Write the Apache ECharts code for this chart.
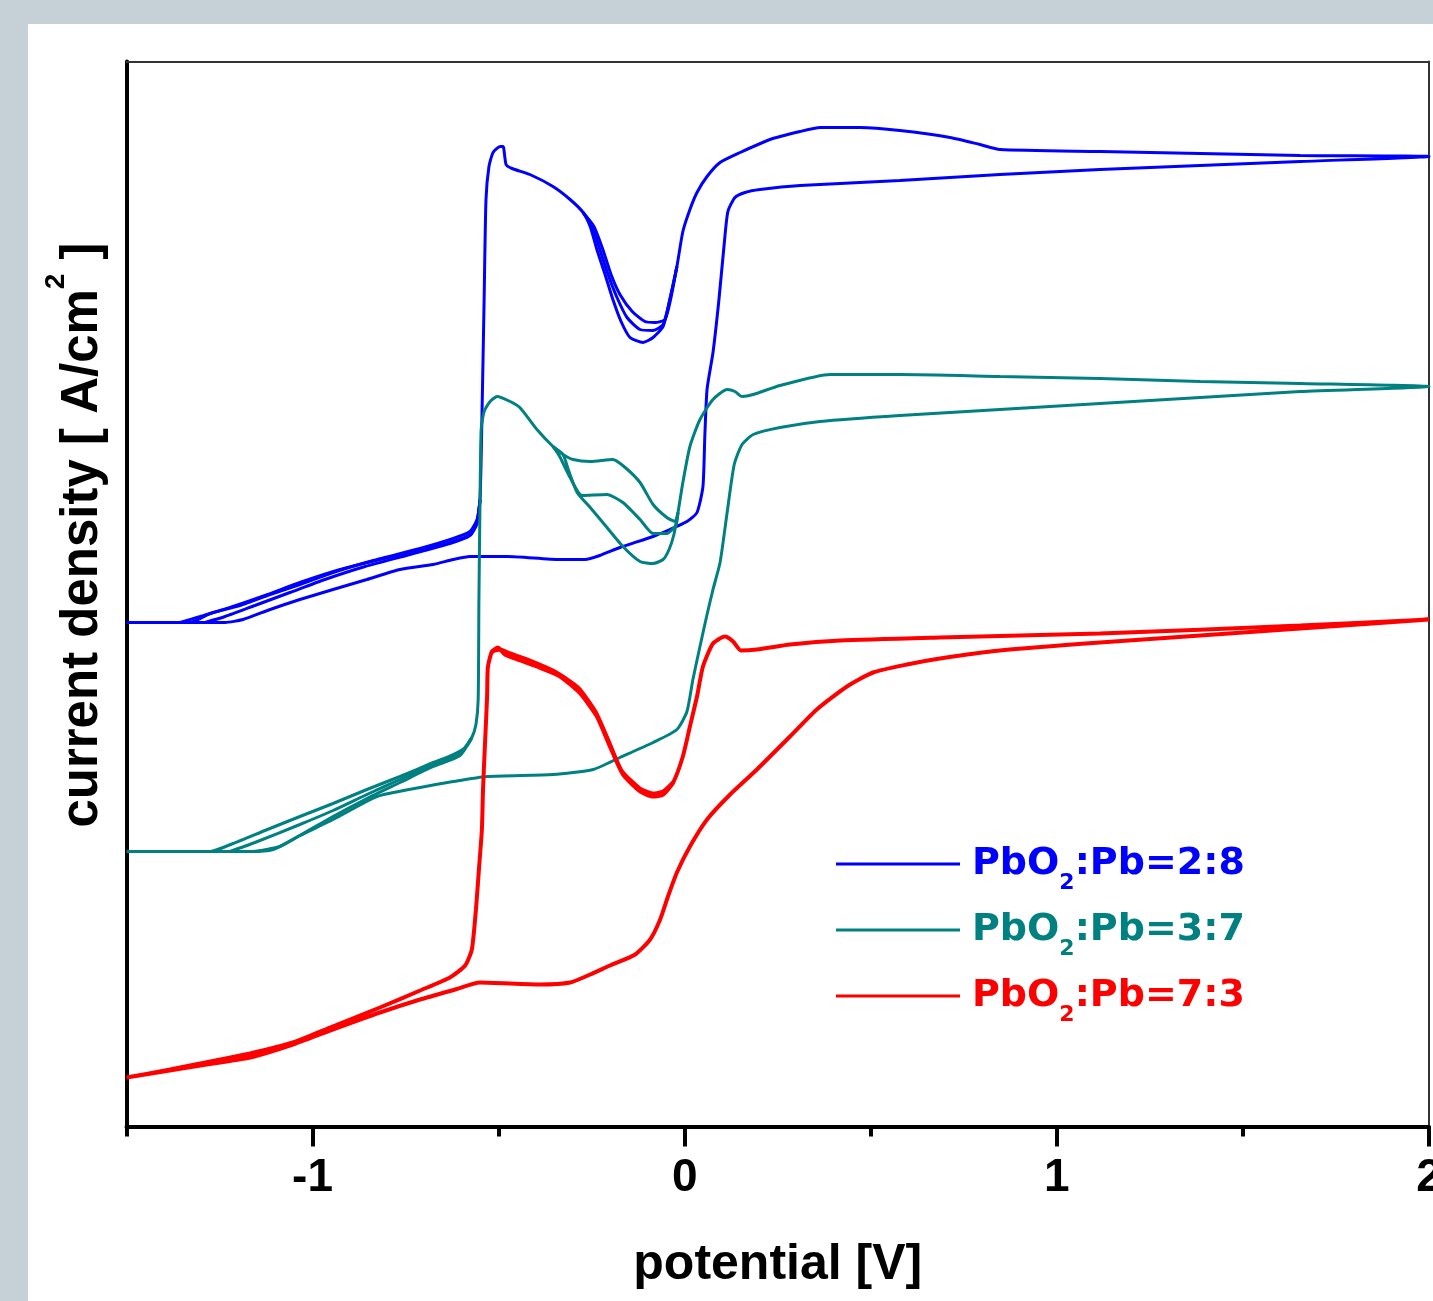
<!DOCTYPE html>
<html>
<head>
<meta charset="utf-8">
<script src="https://cdn.jsdelivr.net/npm/echarts@6.0.0/dist/echarts.min.js"></script>
<style>
html,body{margin:0;padding:0;width:1433px;height:1301px;overflow:hidden;background:#c6d1d7;}
#panel{position:absolute;left:28px;top:24px;right:0;bottom:0;background:#ffffff;}
#chart{position:absolute;left:0;top:0;width:1433px;height:1301px;}
</style>
</head>
<body>
<div id="panel"></div>
<div id="chart"></div>
<script>
// ---- axis ----
const xMin = -1.5, xMax = 2.0;
const yMin = 0, yMax = 10.65;
const xMajorTicks = [-1, 0, 1, 2];
const xMinorTicks = [-1.5, -0.5, 0.5, 1.5];
const seriesNames = ['PbO2:Pb=2:8', 'PbO2:Pb=3:7', 'PbO2:Pb=7:3'];
const seriesColors = ['#0000ff', '#008080', '#ff0000'];

// ---- PbO2:Pb=2:8 (blue) : potential [V], current density [a.u.] ----
const blueLoop = [
[-1.5,5.04],[-1.329,5.04],[-1.275,5.13],[-1.195,5.21],[-1.114,5.32],[-1.034,5.42],[-0.945,5.54],[-0.837,5.66],
[-0.711,5.78],[-0.622,5.88],[-0.577,5.95],[-0.558,6.07],[-0.550,6.27],[-0.545,7.07],[-0.539,8.27],[-0.534,9.27],
[-0.526,9.60],[-0.515,9.74],[-0.496,9.80],[-0.488,9.80],[-0.480,9.62],[-0.464,9.58],[-0.416,9.52],[-0.354,9.40],
[-0.308,9.27],[-0.273,9.14],[-0.254,9.00],[-0.236,8.77],[-0.214,8.52],[-0.193,8.27],[-0.171,8.05],[-0.147,7.89],
[-0.112,7.84],[-0.085,7.89],[-0.058,8.00],[-0.040,8.27],[-0.021,8.60],[-0.005,8.95],[0.014,9.17],[0.033,9.34],
[0.060,9.50],[0.095,9.64],[0.149,9.74],[0.229,9.87],[0.310,9.95],[0.364,9.99],[0.471,9.99],[0.578,9.96],
[0.713,9.89],[0.793,9.82],[0.847,9.77],[1.116,9.75],[1.385,9.73],[1.654,9.71],[2.0,9.70],
[1.654,9.65],[1.385,9.61],[1.116,9.57],[0.847,9.52],[0.578,9.46],[0.310,9.41],[0.202,9.37],[0.162,9.34],
[0.135,9.29],[0.116,9.15],[0.106,8.82],[0.092,8.27],[0.076,7.74],[0.060,7.37],[0.054,6.90],[0.049,6.40],
[0.033,6.14],[0.006,6.05],[-0.040,5.97],[-0.085,5.90],[-0.174,5.79],[-0.228,5.71],[-0.268,5.67],[-0.335,5.67],
[-0.477,5.70],[-0.577,5.70],[-0.622,5.67],[-0.676,5.62],[-0.765,5.57],[-0.854,5.47],[-0.945,5.37],[-1.034,5.27],
[-1.114,5.17],[-1.187,5.07],[-1.235,5.04],[-1.5,5.04]
];
const blueDip2 = [
[-0.273,9.14],[-0.249,9.00],[-0.228,8.77],[-0.206,8.52],[-0.182,8.29],[-0.155,8.09],[-0.120,7.97],[-0.085,7.96],
[-0.058,8.02],[-0.040,8.27],[-0.021,8.60]
];
const blueDip3 = [
[-0.273,9.14],[-0.244,9.00],[-0.220,8.77],[-0.198,8.52],[-0.174,8.32],[-0.141,8.15],[-0.107,8.05],[-0.080,8.04],
[-0.053,8.07],[-0.038,8.27],[-0.021,8.60]
];
const blueRise2 = [
[-1.356,5.04],[-1.302,5.10],[-1.222,5.19],[-1.128,5.31],[-1.034,5.44],[-0.926,5.57],[-0.819,5.67],[-0.711,5.76],
[-0.622,5.85],[-0.577,5.92],[-0.558,6.05],[-0.550,6.27]
];
const blueRise3 = [
[-1.289,5.04],[-1.235,5.10],[-1.155,5.21],[-1.061,5.34],[-0.967,5.47],[-0.859,5.60],[-0.738,5.72],[-0.631,5.83],
[-0.577,5.91],[-0.558,6.03],[-0.550,6.27]
];

// ---- PbO2:Pb=3:7 (teal) ----
const tealLoop = [
[-1.5,2.75],[-1.275,2.75],[-1.214,2.83],[-1.128,2.96],[-1.034,3.10],[-0.945,3.23],[-0.854,3.37],[-0.765,3.50],
[-0.676,3.64],[-0.622,3.72],[-0.590,3.79],[-0.572,3.89],[-0.561,4.02],[-0.555,4.27],[-0.553,5.27],[-0.550,6.27],
[-0.547,6.97],[-0.539,7.15],[-0.523,7.25],[-0.504,7.30],[-0.469,7.25],[-0.443,7.19],[-0.397,6.97],[-0.354,6.80],
[-0.327,6.72],[-0.313,6.57],[-0.289,6.34],[-0.254,6.19],[-0.220,6.04],[-0.166,5.80],[-0.120,5.65],[-0.085,5.63],
[-0.058,5.67],[-0.042,5.77],[-0.029,5.92],[-0.018,6.14],[-0.005,6.44],[0.014,6.80],[0.041,7.07],[0.076,7.27],
[0.114,7.37],[0.135,7.35],[0.154,7.30],[0.184,7.32],[0.256,7.41],[0.391,7.52],[0.578,7.52],[0.847,7.50],
[1.116,7.48],[1.385,7.45],[1.654,7.43],[2.0,7.40],
[1.654,7.35],[1.385,7.29],[1.116,7.23],[0.847,7.17],[0.578,7.11],[0.364,7.05],[0.256,6.99],[0.184,6.92],
[0.154,6.82],[0.133,6.62],[0.114,6.14],[0.095,5.64],[0.076,5.37],[0.060,5.12],[0.041,4.80],[0.022,4.47],
[0.006,4.15],[-0.021,3.97],[-0.085,3.84],[-0.174,3.69],[-0.246,3.57],[-0.354,3.52],[-0.531,3.50],[-0.622,3.45],
[-0.711,3.39],[-0.827,3.30],[-0.945,3.07],[-1.034,2.91],[-1.106,2.77],[-1.168,2.75],[-1.5,2.75]
];
const tealShoulderA = [
[-0.354,6.80],[-0.327,6.72],[-0.300,6.67],[-0.254,6.65],[-0.193,6.67],[-0.160,6.59],[-0.120,6.44],[-0.085,6.22],
[-0.048,6.09],[-0.026,6.05],[-0.018,6.14]
];
const tealShoulderB = [
[-0.354,6.80],[-0.336,6.70],[-0.308,6.49],[-0.276,6.31],[-0.209,6.32],[-0.166,6.24],[-0.120,6.07],[-0.085,5.93],
[-0.048,5.93],[-0.024,6.01],[-0.018,6.14]
];
const tealRise2 = [
[-1.222,2.75],[-1.155,2.84],[-1.034,3.02],[-0.945,3.16],[-0.854,3.32],[-0.765,3.47],[-0.676,3.62],[-0.604,3.73],
[-0.572,3.89]
];
const tealRise3 = [
[-1.155,2.75],[-1.088,2.80],[-1.034,2.91],[-0.945,3.10],[-0.854,3.28],[-0.765,3.44],[-0.676,3.60],[-0.604,3.71],
[-0.572,3.89]
];

// ---- PbO2:Pb=7:3 (red) ----
const redLoop = [
[-1.5,0.49],[-1.383,0.57],[-1.302,0.63],[-1.168,0.73],[-1.053,0.84],[-0.953,0.99],[-0.819,1.19],[-0.711,1.36],
[-0.631,1.49],[-0.590,1.61],[-0.572,1.77],[-0.561,2.17],[-0.553,2.57],[-0.545,2.97],[-0.542,3.37],[-0.537,3.80],
[-0.531,4.30],[-0.529,4.59],[-0.518,4.75],[-0.502,4.79],[-0.483,4.72],[-0.450,4.67],[-0.397,4.60],[-0.335,4.50],
[-0.281,4.33],[-0.236,4.10],[-0.201,3.80],[-0.166,3.52],[-0.120,3.35],[-0.085,3.30],[-0.058,3.32],[-0.031,3.44],
[-0.005,3.70],[0.014,4.00],[0.033,4.30],[0.049,4.60],[0.076,4.83],[0.108,4.90],[0.130,4.85],[0.151,4.76],
[0.194,4.77],[0.283,4.82],[0.418,4.86],[0.686,4.89],[1.116,4.93],[1.654,5.01],[2.0,5.07],
[1.654,4.98],[1.116,4.84],[0.847,4.76],[0.686,4.68],[0.597,4.62],[0.506,4.54],[0.436,4.40],[0.355,4.17],
[0.283,3.90],[0.194,3.57],[0.122,3.32],[0.060,3.07],[0.014,2.80],[-0.021,2.54],[-0.045,2.30],[-0.066,2.07],
[-0.093,1.87],[-0.133,1.72],[-0.201,1.61],[-0.254,1.52],[-0.308,1.44],[-0.389,1.42],[-0.550,1.44],[-0.617,1.37],
[-0.711,1.27],[-0.819,1.14],[-0.953,0.96],[-1.053,0.82],[-1.168,0.69],[-1.302,0.61],[-1.5,0.49]
];
const redPeak2 = [
[-0.518,4.75],[-0.496,4.77],[-0.469,4.73],[-0.416,4.66],[-0.349,4.55],[-0.287,4.39],[-0.240,4.15],[-0.205,3.86],
[-0.170,3.56],[-0.120,3.38],[-0.085,3.33],[-0.058,3.35],[-0.031,3.44]
];

const chart = echarts.init(document.getElementById('chart'), null, {renderer: 'canvas'});

function lineSeries(nameIdx, data, width) {
  return {
    name: seriesNames[nameIdx], type: 'line', data: data,
    xAxisIndex: 0, yAxisIndex: 0,
    symbol: 'none', showSymbol: false, smooth: 0.2,
    lineStyle: {color: seriesColors[nameIdx], width: width},
    itemStyle: {color: seriesColors[nameIdx]},
    emphasis: {disabled: true}, silent: true, clip: true
  };
}

const legendKeys = ['b', 't', 'r'];
const legendRich = {};
legendKeys.forEach(function (k, i) {
  const base = {color: seriesColors[i], fontFamily: 'DejaVu Sans', fontWeight: 'bold'};
  legendRich[k + 'p'] = Object.assign({fontSize: 38, lineHeight: 60, padding: [0, 0, 0, 7]}, base);
  legendRich[k + 'm'] = Object.assign({fontSize: 38, lineHeight: 60}, base);
  legendRich[k + 's'] = Object.assign({fontSize: 22, lineHeight: 10, verticalAlign: 'bottom'}, base);
});

const axisFont = {fontFamily: 'Liberation Sans', fontWeight: 'bold', color: '#000'};

const option = {
  animation: false,
  grid: {left: 126.5, right: 4, top: 61.5, bottom: 174.5, containLabel: false, outerBoundsMode: 'none'},
  legend: {
    orient: 'vertical', left: 836, top: 845, padding: 0, itemGap: 17,
    itemWidth: 124, itemHeight: 3, icon: 'rect', selectedMode: false,
    data: seriesNames.map(function (n) { return {name: n}; }),
    formatter: function (name) {
      const i = seriesNames.indexOf(name);
      const k = legendKeys[i];
      const rest = name.replace('PbO2', '');
      return '{' + k + 'p|PbO}{' + k + 's|2}{' + k + 'm|' + rest + '}';
    },
    textStyle: {rich: legendRich}
  },
  xAxis: [
    {
      type: 'value', position: 'bottom', min: xMin, max: xMax,
      name: 'potential [V]', nameLocation: 'middle', nameGap: 114,
      nameTextStyle: Object.assign({fontSize: 50}, axisFont),
      axisLine: {onZero: false, lineStyle: {color: '#000', width: 4}},
      axisTick: {show: true, inside: false, length: 20, lineStyle: {width: 4, color: '#000'}, customValues: xMajorTicks},
      axisLabel: Object.assign({show: true, fontSize: 46, margin: 29, customValues: xMajorTicks,
        formatter: function (v) { return String(v); }}, axisFont),
      splitLine: {show: false}
    },
    {
      type: 'value', position: 'bottom', min: xMin, max: xMax, offset: 0,
      axisLine: {show: false},
      axisTick: {show: true, inside: false, length: 10, lineStyle: {width: 4, color: '#000'}, customValues: xMinorTicks},
      axisLabel: {show: false}, splitLine: {show: false}
    },
    {
      type: 'value', position: 'top', min: xMin, max: xMax,
      axisLine: {onZero: false, lineStyle: {color: '#333', width: 2}},
      axisTick: {show: false}, axisLabel: {show: false}, splitLine: {show: false}
    }
  ],
  yAxis: [
    {
      type: 'value', position: 'left', min: yMin, max: yMax,
      name: 'current density [ A/cm{sup|2} ]', nameLocation: 'middle', nameGap: 4, nameRotate: 90,
      nameTextStyle: {
        fontSize: 51, fontFamily: 'Liberation Sans', fontWeight: 'bold', color: '#000',
        padding: [0, 0, 0, 118],
        rich: {
          sup: {fontSize: 28, lineHeight: 14, verticalAlign: 'top', fontFamily: 'Liberation Sans', fontWeight: 'bold', color: '#000'}
        },
        lineHeight: 80
      },
      axisLine: {onZero: false, lineStyle: {color: '#000', width: 4}},
      axisTick: {show: false}, axisLabel: {show: false}, splitLine: {show: false}
    },
    {
      type: 'value', position: 'right', min: yMin, max: yMax,
      axisLine: {onZero: false, lineStyle: {color: '#333', width: 2}},
      axisTick: {show: false}, axisLabel: {show: false}, splitLine: {show: false}
    }
  ],
  series: [
    lineSeries(0, blueLoop, 3),
    lineSeries(0, blueDip2, 3),
    lineSeries(0, blueDip3, 3),
    lineSeries(0, blueRise2, 3),
    lineSeries(0, blueRise3, 3),
    lineSeries(1, tealLoop, 3),
    lineSeries(1, tealShoulderA, 3),
    lineSeries(1, tealShoulderB, 3),
    lineSeries(1, tealRise2, 3),
    lineSeries(1, tealRise3, 3),
    lineSeries(2, redLoop, 4),
    lineSeries(2, redPeak2, 4)
  ]
};
chart.setOption(option);
</script>
</body>
</html>
